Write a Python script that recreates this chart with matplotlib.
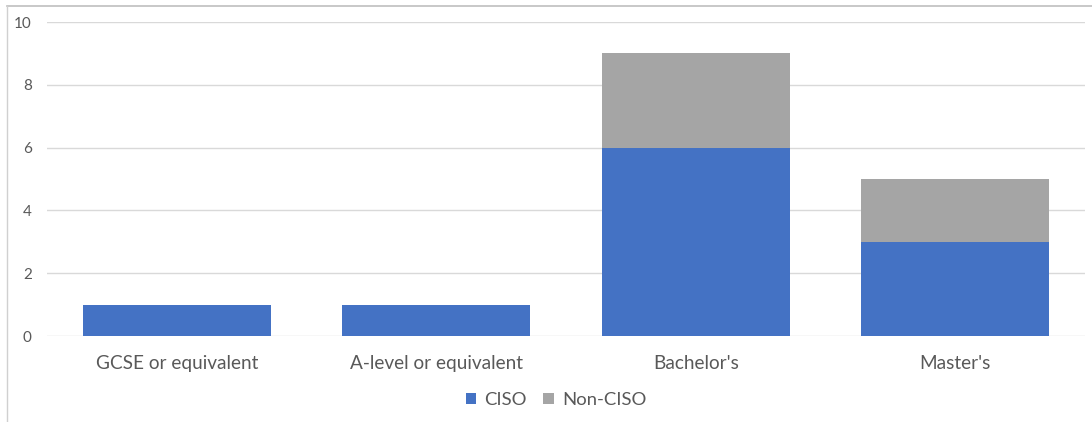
import matplotlib
matplotlib.use("Agg")
import matplotlib.pyplot as plt
from matplotlib.lines import Line2D

categories = ["GCSE or equivalent", "A-level or equivalent", "Bachelor's", "Master's"]
ciso = [1, 1, 6, 3]
non_ciso = [0, 0, 3, 2]
yticks = [0, 2, 4, 6, 8, 10]

plt.rcParams["font.family"] = ["Lato", "DejaVu Sans"]

W, H = 1092, 422
fig = plt.figure(figsize=(W / 100, H / 100), dpi=100)
ax = fig.add_axes([47 / W, 1 - 336 / H, (1085 - 47) / W, (336 - 22) / H])

x = range(len(categories))
bar_w = 0.725
ax.bar(x, ciso, width=bar_w, color="#4472C4", label="CISO", zorder=3)
ax.bar(x, non_ciso, width=bar_w, bottom=ciso, color="#A5A5A5", label="Non-CISO", zorder=3)

ax.set_xlim(-0.5, len(categories) - 0.5)
ax.set_ylim(0, 10)
ax.set_yticks(yticks)
ax.set_xticks(list(x))
ax.set_xticklabels(categories, fontsize=13.7, color="#595959")
ax.tick_params(axis="y", labelsize=11, colors="#595959", length=0, pad=11)
ax.tick_params(axis="x", length=0, pad=14)
ax.grid(axis="y", color="#D9D9D9", linewidth=1, zorder=0)
for s in ax.spines.values():
    s.set_visible(False)

leg = fig.legend(loc="center", bbox_to_anchor=(556 / W, 1 - 400 / H), ncol=2, frameon=False,
                 fontsize=13.3, handlelength=0.55, handleheight=0.55, handletextpad=0.45,
                 columnspacing=0.9)
for t in leg.get_texts():
    t.set_color("#595959")

# outer frame lines
fig.add_artist(Line2D([7 / W, 1], [1 - 6 / H, 1 - 6 / H], color="#BFBFBF", lw=1.2))
fig.add_artist(Line2D([7 / W, 7 / W], [0, 1 - 6 / H], color="#D0D0D0", lw=1.0))

fig.savefig("out.png", dpi=100)
